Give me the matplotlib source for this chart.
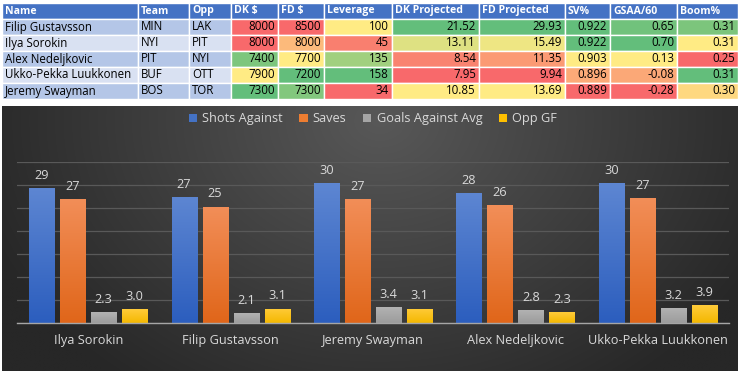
import numpy as np
import matplotlib
matplotlib.use("Agg")
import matplotlib.pyplot as plt
from matplotlib.patches import Rectangle, Patch
from matplotlib.colors import to_rgb

# ---------------- data ----------------
tbl_names = ["Filip Gustavsson", "Ilya Sorokin", "Alex Nedeljkovic", "Ukko-Pekka Luukkonen", "Jeremy Swayman"]
tbl_team = ["MIN", "NYI", "PIT", "BUF", "BOS"]
tbl_opp = ["LAK", "PIT", "NYI", "OTT", "TOR"]
dk_salary = [8000, 8000, 7400, 7900, 7300]
fd_salary = [8500, 8000, 7700, 7200, 7300]
leverage = [100, 45, 135, 158, 34]
dk_proj = [21.52, 13.11, 8.54, 7.95, 10.85]
fd_proj = [29.93, 15.49, 11.35, 9.94, 13.69]
sv_pct = [0.922, 0.922, 0.903, 0.896, 0.889]
gsaa60 = [0.65, 0.70, 0.13, -0.08, -0.28]
boom_pct = [0.3128, 0.3075, 0.252, 0.3138, 0.2995]

headers = ["Name", "Team", "Opp", "DK $", "FD $", "Leverage", "DK Projected",
           "FD Projected", "SV%", "GSAA/60", "Boom%"]

chart_names = ["Ilya Sorokin", "Filip Gustavsson", "Jeremy Swayman", "Alex Nedeljkovic", "Ukko-Pekka Luukkonen"]
shots_against = [29.4, 27.4, 30.4, 28.3, 30.4]
saves = [27.0, 25.3, 27.0, 25.6, 27.2]
goals_against_avg = [2.3, 2.1, 3.4, 2.8, 3.2]
opp_gf = [3.0, 3.1, 3.1, 2.3, 3.9]
series_names = ["Shots Against", "Saves", "Goals Against Avg", "Opp GF"]

FONT = ["Open Sans", "DejaVu Sans"]
plt.rcParams["font.family"] = FONT

W, H = 738, 371
fig = plt.figure(figsize=(W / 100, H / 100), dpi=100)
fig.patch.set_facecolor("white")

# full-figure pixel axes for table + background
bg = fig.add_axes([0, 0, 1, 1])
bg.set_xlim(0, W)
bg.set_ylim(H, 0)
bg.axis("off")

# ---------------- conditional format colours ----------------
RED = np.array(to_rgb("#F8696B"))
YEL = np.array(to_rgb("#FFEB84"))
GRN = np.array(to_rgb("#63BE7B"))


def scale_colors(vals, reverse=False):
    v = np.asarray(vals, float)
    lo, hi, mid = v.min(), v.max(), np.percentile(v, 50)
    lo_c, hi_c = (GRN, RED) if reverse else (RED, GRN)
    out = []
    for x in v:
        if x <= mid:
            t = 0 if mid == lo else (x - lo) / (mid - lo)
            c = lo_c + (YEL - lo_c) * t
        else:
            t = (x - mid) / (hi - mid)
            c = YEL + (hi_c - YEL) * t
        out.append(tuple(c))
    return out


col_edges = [2, 138, 189, 231, 278, 324, 392, 479, 565, 610, 677, 738]
row_edges = [3, 19, 35, 51, 67, 83, 99]

numeric_cols = [
    (dk_salary, "{:.0f}", True),
    (fd_salary, "{:.0f}", True),
    (leverage, "{:.0f}", False),
    (dk_proj, "{:.2f}", False),
    (fd_proj, "{:.2f}", False),
    (sv_pct, "{:.3f}", False),
    (gsaa60, "{:.2f}", False),
    (boom_pct, "{:.2f}", False),
]

TFS = 8.3
HFS = 7.6


def cell(ci, ri, color):
    x0, x1 = col_edges[ci], col_edges[ci + 1]
    y0, y1 = row_edges[ri], row_edges[ri + 1]
    bg.add_patch(Rectangle((x0, y0), x1 - x0, y1 - y0, facecolor=color,
                           edgecolor="white", linewidth=1.0))


# header
for ci, h in enumerate(headers):
    cell(ci, 0, "#4472C4")
    bg.text(col_edges[ci] + 3, (row_edges[0] + row_edges[1]) / 2, h, color="white",
            fontsize=HFS, fontweight="bold", va="center", ha="left")

text_cols = [tbl_names, tbl_team, tbl_opp]
for ri in range(len(tbl_names)):
    fill = "#B4C6E7" if ri % 2 == 0 else "#D9E1F2"
    yc = (row_edges[ri + 1] + row_edges[ri + 2]) / 2
    for ci, col in enumerate(text_cols):
        cell(ci, ri + 1, fill)
        bg.text(col_edges[ci] + 3, yc, col[ri], color="black", fontsize=TFS,
                va="center", ha="left")

for k, (vals, fmt, rev) in enumerate(numeric_cols):
    ci = 3 + k
    cols = scale_colors(vals, reverse=rev)
    for ri, v in enumerate(vals):
        cell(ci, ri + 1, cols[ri])
        yc = (row_edges[ri + 1] + row_edges[ri + 2]) / 2
        bg.text(col_edges[ci + 1] - 3, yc, fmt.format(v), color="black",
                fontsize=TFS, va="center", ha="right")

# ---------------- chart background gradient ----------------
cx0, cx1, cy0, cy1 = 2, 738, 106, 371
gx = np.linspace(cx0, cx1, 400)
gy = np.linspace(cy0, cy1, 150)
XX, YY = np.meshgrid(gx, gy)
r = np.sqrt(((XX - 380) / 420) ** 2 + ((YY - 120) / 330) ** 2)
r = np.clip(r, 0, 1)
c_in = np.array(to_rgb("#585858"))
c_out = np.array(to_rgb("#272727"))
img = c_in[None, None, :] + (c_out - c_in)[None, None, :] * r[..., None]
bg.imshow(img, extent=(cx0, cx1, cy1, cy0), origin="upper", aspect="auto",
          interpolation="bilinear", zorder=0)

# ---------------- bar chart ----------------
ax = fig.add_axes([17 / W, 1 - 323 / H, 712 / W, 161 / H])
ax.set_facecolor("none")
ax.set_xlim(-0.5, len(chart_names) - 0.5)
ax.set_ylim(0, 35)
ax.set_yticks(np.arange(0, 36, 5))
ax.yaxis.grid(True, color="#595959", linewidth=0.9)
ax.set_axisbelow(True)
ax.tick_params(axis="y", left=False, labelleft=False)
ax.tick_params(axis="x", length=0, pad=8, labelcolor="#D9D9D9", labelsize=9.2)
for s in ["top", "right", "left"]:
    ax.spines[s].set_visible(False)
ax.spines["bottom"].set_color("#A6A6A6")
ax.spines["bottom"].set_linewidth(1.0)
ax.spines["bottom"].set_zorder(5)

x = np.arange(len(chart_names))
bw = 0.1756
step = 0.2177
series = [shots_against, saves, goals_against_avg, opp_gf]
fmts = ["{:.0f}", "{:.0f}", "{:.1f}", "{:.1f}"]
grads = [("#5D86D2", "#2C5EBE"), ("#F28E58", "#E0661A"),
         ("#B2B2B2", "#9C9C9C"), ("#FFCB3A", "#F4B800")]
legend_cols = ["#4472C4", "#ED7D31", "#A5A5A5", "#FFC000"]

for i, (vals, fmt, (ctop, cbot)) in enumerate(zip(series, fmts, grads)):
    pos = x + (i - 1.5) * step
    bars = ax.bar(pos, vals, width=bw, color=cbot, zorder=2, linewidth=0)
    grad = np.linspace(0, 1, 64)[:, None, None]
    ct, cb = np.array(to_rgb(ctop)), np.array(to_rgb(cbot))
    gimg = ct[None, None, :] + (cb - ct)[None, None, :] * grad
    for b, v in zip(bars, vals):
        # soft shadow
        ax.bar(b.get_x() + b.get_width() / 2 + 0.006, v, width=bw, bottom=-0.3,
               color="#1e1e1e", alpha=0.45, zorder=1.5, linewidth=0)
        im = ax.imshow(gimg, extent=(b.get_x(), b.get_x() + b.get_width(), 0, v),
                       origin="upper", aspect="auto", zorder=2.5,
                       interpolation="bilinear")
        im.set_clip_path(b)
        ax.annotate(fmt.format(v), (b.get_x() + b.get_width() / 2, v),
                    xytext=(0, 4.5), textcoords="offset points", ha="center",
                    va="bottom", color="#D9D9D9", fontsize=9.2)

ax.set_xlim(-0.5, len(chart_names) - 0.5)
ax.set_ylim(0, 35)
ax.set_xticks(x)
ax.set_xticklabels(chart_names)

handles = [Patch(facecolor=c, edgecolor="none") for c in legend_cols]
fig.legend(handles, series_names, loc="center", bbox_to_anchor=(373 / W, 1 - 119 / H),
           ncol=4, frameon=False, fontsize=9.2, labelcolor="#D9D9D9",
           handlelength=0.65, handleheight=0.65, handletextpad=0.4, columnspacing=1.3)

fig.savefig("out.png", dpi=100, facecolor="white")
